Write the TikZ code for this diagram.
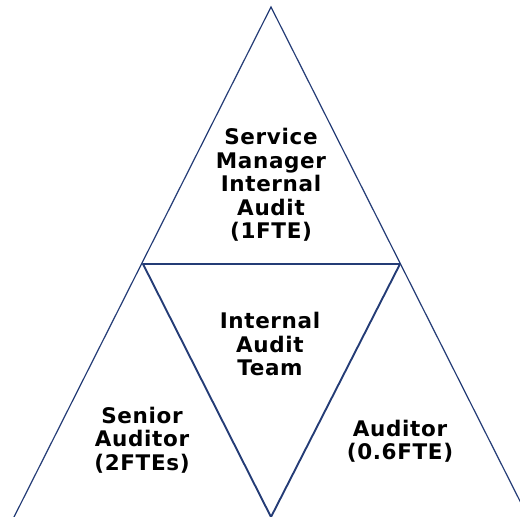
\documentclass[tikz,border=0pt]{standalone}
\usepackage{fontspec}
\setmainfont{DejaVu Sans}[LetterSpace=3]
\usetikzlibrary{positioning}
\definecolor{edgeblue}{RGB}{36,60,118}

\tikzset{
    label text/.style={align=center, font=\bfseries\fontsize{21.5}{23.5}\selectfont}
}

\begin{document}
\begin{tikzpicture}[x=1pt, y=-1pt]
    \useasboundingbox (0,0) rectangle (520,517);
    \clip (0,0) rectangle (520,517);

    \coordinate (apex) at (271,7);
    \coordinate (midl) at (143,264);
    \coordinate (midr) at (400,264);
    \coordinate (tip) at (271,517);
    \coordinate (basel) at (14,517);
    \coordinate (baser) at (528,517);

    \draw[edgeblue, line width=1.2pt] (basel) -- (apex) -- (baser);
    \draw[edgeblue, line width=1.9pt, line join=round] (midl) -- (midr) -- (tip) -- cycle;

    \node[label text] (manager) at (271,185) {Service\\Manager\\Internal\\Audit\\(1FTE)};
    \node[label text] (team) at (270,344) {Internal\\Audit\\Team};
    \node[label text] (senior) at (142,440) {Senior\\Auditor\\(2FTEs)};
    \node[label text] (auditor) at (400,441) {Auditor\\(0.6FTE)};
\end{tikzpicture}
\end{document}
